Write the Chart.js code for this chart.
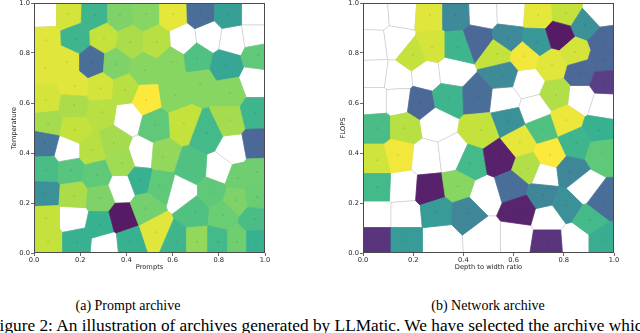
<!DOCTYPE html>
<html><head><meta charset="utf-8">
<script src="https://cdn.jsdelivr.net/npm/chart.js@4"></script>
<style>
html,body{margin:0;padding:0;background:#fff;width:640px;height:333px;overflow:hidden;position:relative}
.box{position:absolute;top:0}
.cap{position:absolute;font-family:"Liberation Serif","Times New Roman",serif;font-size:14px;color:#000;white-space:nowrap;line-height:1}
</style></head><body>
<div class="box" style="left:0;width:300px;height:275px"><canvas id="promptChart" width="300" height="275"></canvas></div>
<div class="box" style="left:320px;width:310px;height:275px"><canvas id="networkChart" width="310" height="275"></canvas></div>
<div class="cap" id="capA" style="top:299px;left:128px;transform:translateX(-50%)">(a) Prompt archive</div>
<div class="cap" id="capB" style="top:299px;left:488px;transform:translateX(-50%)">(b) Network archive</div>
<div class="cap" id="figText" style="top:317px;left:-10px;font-size:17.3px">Figure 2: An illustration of archives generated by LLMatic. We have selected the archive which</div>
<script>
// ---------- DATA ----------
const tickValues = [0, 0.2, 0.4, 0.6, 0.8, 1.0];
const tickLabels = ["0.0", "0.2", "0.4", "0.6", "0.8", "1.0"];

// Prompt archive: niche centroids (Prompts, Temperature) and fitness (null = empty niche)
const promptX = [
 0.048,0.052,0.048,0.052,0.061,0.048,0.052,0.048,0.052,0.061,
 0.147,0.182,0.143,0.177,0.173,0.177,0.147,0.160,0.173,0.169,0.186,
 0.264,0.303,0.251,0.290,0.294,0.251,0.273,0.286,0.286,0.307,
 0.372,0.416,0.355,0.394,0.407,0.346,0.381,0.381,0.385,0.416,
 0.485,0.532,0.481,0.485,0.524,0.468,0.558,0.459,0.545,0.481,0.528,
 0.602,0.645,0.597,0.610,0.649,0.684,0.641,0.697,0.615,
 0.723,0.758,0.706,0.719,0.749,0.775,0.706,
 0.840,0.857,0.831,0.848,0.848,0.861,0.805,0.883,0.874,0.818,0.797,0.879,
 0.957,0.957,0.970,0.957,0.957,0.961,0.965,0.965,0.957,0.961
];
const promptY = [
 0.956,0.852,0.740,0.612,0.516,0.440,0.332,0.236,0.140,0.044,
 0.956,0.856,0.764,0.668,0.592,0.492,0.412,0.332,0.228,0.140,0.044,
 0.952,0.860,0.764,0.660,0.564,0.412,0.312,0.220,0.112,0.032,
 0.952,0.844,0.756,0.652,0.544,0.440,0.360,0.260,0.140,0.044,
 0.956,0.844,0.732,0.612,0.512,0.392,0.384,0.292,0.272,0.180,0.084,
 0.956,0.852,0.764,0.632,0.520,0.340,0.244,0.164,0.044,
 0.960,0.868,0.780,0.676,0.480,0.244,0.044,
 0.956,0.852,0.752,0.640,0.532,0.412,0.332,0.300,0.212,0.152,0.044,0.044,
 0.956,0.868,0.792,0.684,0.560,0.432,0.324,0.224,0.136,0.044
];
const promptFit = [
 null,0.95,0.95,0.93,0.85,0.33,0.66,0.45,0.90,0.90,
 0.93,0.62,0.95,0.95,0.86,0.90,null,0.70,0.86,null,0.60,
 0.62,0.90,0.30,0.93,0.88,0.88,0.72,0.78,0.60,null,
 0.78,0.86,0.78,0.88,null,0.85,0.84,null,0.00,0.60,
 0.80,0.88,0.80,1.00,0.72,null,0.82,0.60,0.72,0.76,0.95,
 0.96,null,0.80,0.80,0.90,0.68,null,0.68,0.62,
 0.30,null,0.68,0.80,0.64,0.72,0.82,
 0.52,null,0.55,0.80,0.85,null,null,0.75,0.78,0.74,0.64,0.75,
 null,null,0.72,null,0.62,0.27,0.75,0.74,0.66,0.60
];

// Network archive: niche centroids (Depth to width ratio, FLOPS) and fitness
const netX = [
 0.048,0.155,0.267,0.367,0.478,0.590,0.697,0.809,0.940,
 0.044,0.135,0.199,0.275,0.378,0.458,0.578,0.693,0.785,0.884,0.956,
 0.048,0.135,0.255,0.355,0.534,0.645,0.753,0.845,0.869,0.956,0.960,0.554,0.657,0.769,0.869,0.956,
 0.048,0.139,0.227,0.339,0.458,0.562,0.685,0.578,
 0.056,0.163,0.291,0.470,0.713,0.809,0.940,
 0.056,0.139,0.255,0.355,0.426,0.546,0.625,0.745,0.657,0.849,0.952,0.825,
 0.056,0.159,0.267,0.378,0.486,0.594,0.717,0.725,0.876,0.956,
 0.056,0.167,0.295,0.414,0.625,0.809,0.904,0.737,
 0.056,0.167,0.307,0.486,0.610,0.737,0.845,0.956
];
const netY = [
 0.952,0.960,0.952,0.952,0.956,0.960,0.952,0.960,0.964,
 0.832,0.844,0.792,0.824,0.824,0.852,0.860,0.844,0.872,0.912,0.844,
 0.712,0.700,0.712,0.724,0.796,0.788,0.752,0.804,0.720,0.772,0.684,0.712,0.680,0.632,0.620,0.592,
 0.612,0.612,0.600,0.620,0.624,0.612,0.572,0.532,
 0.500,0.500,0.520,0.492,0.500,0.532,0.492,
 0.372,0.392,0.380,0.392,0.360,0.380,0.444,0.392,0.340,0.440,0.404,0.324,
 0.264,0.260,0.252,0.268,0.232,0.264,0.232,0.312,0.260,0.200,
 0.152,0.152,0.164,0.160,0.172,0.192,0.132,0.140,
 0.052,0.052,0.052,0.064,0.064,0.044,0.052,0.052
];
const netFit = [
 null,null,0.95,0.42,null,null,0.96,0.90,null,
 null,null,0.90,0.93,0.62,0.27,0.42,0.48,0.00,0.45,0.27,
 null,null,null,null,0.90,0.98,0.95,0.93,0.27,0.27,0.12,0.42,null,0.87,null,null,
 null,null,0.27,0.62,0.30,null,null,0.45,
 0.66,0.88,null,0.90,0.68,0.97,0.60,
 0.92,0.98,null,null,0.64,0.02,0.96,1.00,0.87,0.62,0.72,0.40,
 0.64,null,0.02,0.80,null,0.30,0.40,null,null,0.30,
 null,null,0.50,0.40,0.03,0.45,0.64,null,
 0.08,0.50,null,null,null,0.08,null,0.58
];

// ---------- HELPERS ----------
const VIRIDIS = [[68,1,84],[72,36,117],[65,68,135],[53,95,141],[42,120,142],[33,145,140],[34,168,132],[68,191,112],[122,209,81],[189,223,38],[253,231,37]];
function viridis(t){
  t = Math.max(0, Math.min(1, t));
  const s = t * 10, i = Math.min(9, Math.floor(s)), f = s - i;
  const a = VIRIDIS[i], b = VIRIDIS[i+1];
  const c = [0,1,2].map(k => a[k] + (b[k]-a[k]) * f);
  const m = c.map(v => Math.round(v*0.9 + 255*0.1));
  return `rgb(${m[0]},${m[1]},${m[2]})`;
}
function clipPoly(poly, a, b, c){
  const out = [];
  for (let k = 0; k < poly.length; k++){
    const P = poly[k], Q = poly[(k+1) % poly.length];
    const dp = a*P[0] + b*P[1] - c, dq = a*Q[0] + b*Q[1] - c;
    if (dp <= 0) out.push(P);
    if ((dp < 0 && dq > 0) || (dp > 0 && dq < 0)){
      const t = dp / (dp - dq);
      out.push([P[0] + t*(Q[0]-P[0]), P[1] + t*(Q[1]-P[1])]);
    }
  }
  return out;
}
function voronoiCells(X, Y, F){
  const cells = [];
  for (let i = 0; i < X.length; i++){
    let poly = [[0,0],[1,0],[1,1],[0,1]];
    for (let j = 0; j < X.length; j++){
      if (j === i) continue;
      const nx = X[j]-X[i], ny = Y[j]-Y[i];
      const c = nx*(X[i]+X[j])/2 + ny*(Y[i]+Y[j])/2;
      poly = clipPoly(poly, nx, ny, c);
      if (!poly.length) break;
    }
    cells.push({poly, fit: F[i]});
  }
  return cells;
}

const voronoiPlugin = {
  id: 'voronoi',
  beforeDatasetsDraw(chart, args, opts){
    const {ctx, chartArea, scales: {x, y}} = chart;
    const cells = opts.cells || [];
    const path = cell => {
      ctx.beginPath();
      cell.poly.forEach((p, k) => {
        const px = x.getPixelForValue(p[0]), py = y.getPixelForValue(p[1]);
        if (k) ctx.lineTo(px, py); else ctx.moveTo(px, py);
      });
      ctx.closePath();
    };
    ctx.save();
    ctx.beginPath();
    ctx.rect(chartArea.left, chartArea.top, chartArea.right-chartArea.left, chartArea.bottom-chartArea.top);
    ctx.clip();
    cells.forEach(cell => {
      path(cell);
      ctx.fillStyle = '#fff'; ctx.fill();
      ctx.strokeStyle = 'rgba(0,0,0,0.13)'; ctx.lineWidth = 0.9; ctx.stroke();
    });
    cells.forEach(cell => {
      if (cell.fit === null) return;
      path(cell);
      const col = viridis(cell.fit);
      ctx.fillStyle = col; ctx.fill();
      ctx.strokeStyle = col; ctx.lineWidth = 0.7; ctx.stroke();
    });
    ctx.restore();
  },
  afterDraw(chart){
    const {ctx, chartArea: a} = chart;
    ctx.save();
    ctx.strokeStyle = '#4a4a4a'; ctx.lineWidth = 1;
    ctx.strokeRect(Math.round(a.left)+0.5, Math.round(a.top)+0.5, Math.round(a.right-a.left)-1, Math.round(a.bottom-a.top)-1);
    ctx.restore();
  }
};

const AX_FONT = {family: "'DejaVu Sans', sans-serif", size: 6.7, lineHeight: 1};

function makeChart(id, X, Y, F, xTitle, yTitle, yAxisWidth, yTitlePad, rightPad){
  const pts = [];
  for (let i = 0; i < X.length; i++) if (F[i] !== null) pts.push({x: X[i], y: Y[i]});
  const tickCb = v => { const k = tickValues.findIndex(t => Math.abs(t - v) < 1e-6); return k >= 0 ? tickLabels[k] : ''; };
  const axisBase = (title, pad) => ({
    type: 'linear', min: 0, max: 1,
    ticks: {stepSize: 0.2, callback: tickCb, font: AX_FONT, color: '#222', padding: 1, maxRotation: 0, autoSkip: false},
    grid: {display: true, drawOnChartArea: false, drawTicks: true, tickLength: 3, color: '#444', tickColor: '#444', tickWidth: 0.8},
    border: {display: false},
    title: {display: true, text: title, font: AX_FONT, color: '#222', padding: pad}
  });
  const xs = axisBase(xTitle, {top: 0, bottom: 4.6});
  xs.afterFit = s => { s.height = 22; s.paddingLeft = 0; s.paddingRight = 0; };
  const ys = axisBase(yTitle, {top: yTitlePad, bottom: 0});
  ys.afterFit = s => { s.width = yAxisWidth; s.paddingTop = 0; s.paddingBottom = 0; };
  return new Chart(document.getElementById(id), {
    type: 'scatter',
    data: {datasets: [{data: pts, pointRadius: 0.6, pointHoverRadius: 0.6, backgroundColor: 'rgba(0,0,0,0.3)', borderWidth: 0}]},
    options: {
      responsive: false, animation: false, devicePixelRatio: 1,
      layout: {padding: {top: 3, right: rightPad, bottom: 0, left: 0}},
      plugins: {legend: {display: false}, tooltip: {enabled: false}, voronoi: {cells: voronoiCells(X, Y, F)}},
      scales: {x: xs, y: ys}
    },
    plugins: [voronoiPlugin]
  });
}

makeChart('promptChart', promptX, promptY, promptFit, 'Prompts', 'Temperature', 34, 10.6, 35);
makeChart('networkChart', netX, netY, netFit, 'Depth to width ratio', 'FLOPS', 43, 19.6, 16);
</script>
</body></html>
